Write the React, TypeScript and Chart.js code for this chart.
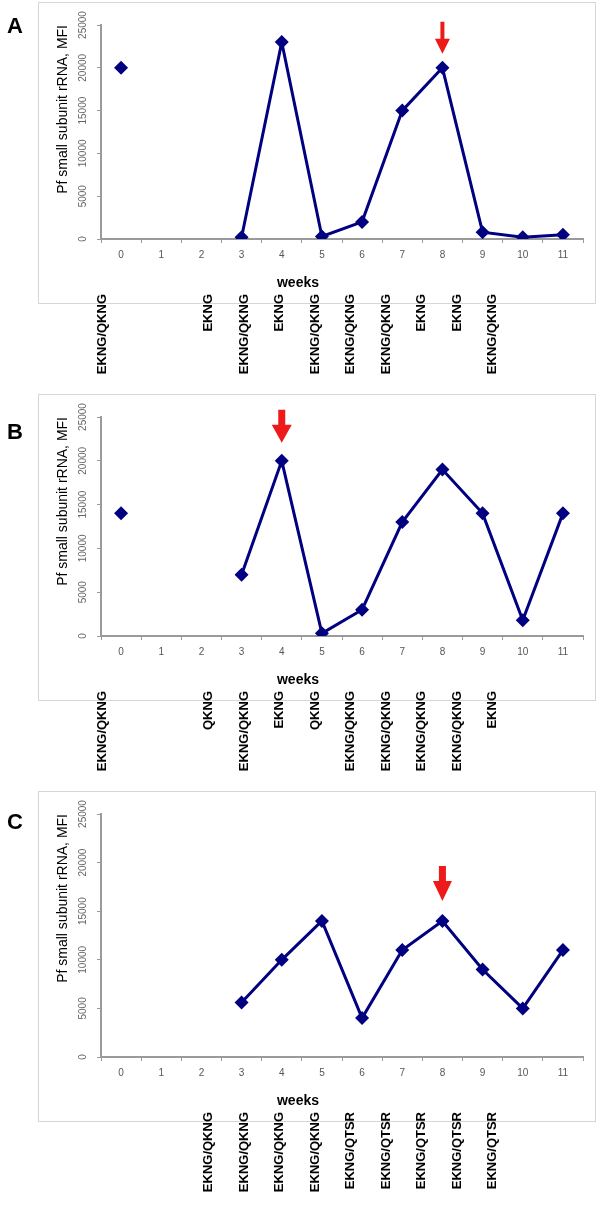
import React, { useEffect, useRef } from "react";
import { Chart, registerables } from "chart.js";

Chart.register(...registerables);

// ---------- data ----------
const weeks = ["0", "1", "2", "3", "4", "5", "6", "7", "8", "9", "10", "11"];
const yTickValues = [0, 5000, 10000, 15000, 20000, 25000];

const valuesA = [20000, null, null, 200, 23000, 300, 2000, 15000, 20000, 800, 200, 500];
const valuesB = [14000, null, null, 7000, 20000, 300, 3000, 13000, 19000, 14000, 1800, 14000];
const valuesC = [null, null, null, 5600, 10000, 14000, 4000, 11000, 14000, 9000, 5000, 11000];

const regimensA = ["EKNG/QKNG", "", "", "EKNG", "EKNG/QKNG", "EKNG", "EKNG/QKNG", "EKNG/QKNG", "EKNG/QKNG", "EKNG", "EKNG", "EKNG/QKNG"];
const regimensB = ["EKNG/QKNG", "", "", "QKNG", "EKNG/QKNG", "EKNG", "QKNG", "EKNG/QKNG", "EKNG/QKNG", "EKNG/QKNG", "EKNG/QKNG", "EKNG"];
const regimensC = ["", "", "", "EKNG/QKNG", "EKNG/QKNG", "EKNG/QKNG", "EKNG/QKNG", "EKNG/QTSR", "EKNG/QTSR", "EKNG/QTSR", "EKNG/QTSR", "EKNG/QTSR"];

const arrowWeekA = 8;
const arrowWeekB = 4;
const arrowWeekC = 8;

const panelLetters = ["A", "B", "C"];
const yTitle = "Pf small subunit rRNA, MFI";
const xTitle = "weeks";

// ---------- layout / style ----------
const FONT = "'Liberation Sans', Arial, sans-serif";
const NAVY = "#000080";
const AXIS = "#9a9a9a";

type PanelLayout = {
  top: number;
  height: number;
  padTop: number;
  padBottom: number;
  letterY: number;
  arrow: { gap: number; len: number; shaftW: number; headW: number; headLen: number };
};

const layouts: PanelLayout[] = [
  { top: 0, height: 390, padTop: 25, padBottom: 121, letterY: 27, arrow: { gap: 14, len: 32, shaftW: 4, headW: 15, headLen: 15 } },
  { top: 390, height: 400, padTop: 27, padBottom: 124, letterY: 43, arrow: { gap: 18, len: 33, shaftW: 7, headW: 20, headLen: 18 } },
  { top: 790, height: 418, padTop: 24, padBottom: 121, letterY: 33, arrow: { gap: 20, len: 35, shaftW: 7, headW: 19, headLen: 20 } },
];

function makeDecor(letter: string, regimens: string[], arrowWeek: number, lay: PanelLayout) {
  return {
    id: "decor",
    beforeDraw(chart: any) {
      const { ctx, chartArea } = chart;
      ctx.save();
      ctx.strokeStyle = "#d6d6d6";
      ctx.lineWidth = 1;
      const top = chartArea.top - 23;
      const bottom = chartArea.bottom + 64;
      ctx.strokeRect(38.5, top + 0.5, 557, bottom - top);
      ctx.restore();
    },
    afterDraw(chart: any) {
      const { ctx, chartArea } = chart;
      const y = chart.scales.y;
      ctx.save();
      // panel letter
      ctx.fillStyle = "#000";
      ctx.font = `bold 22px ${FONT}`;
      ctx.textAlign = "center";
      ctx.textBaseline = "middle";
      ctx.fillText(letter, 15, lay.letterY);

      // y tick labels (rotated)
      ctx.fillStyle = "#666";
      ctx.font = `10px ${FONT}`;
      yTickValues.forEach((v) => {
        const py = y.getPixelForValue(v);
        ctx.save();
        ctx.translate(83, py);
        ctx.rotate(-Math.PI / 2);
        ctx.textAlign = "center";
        ctx.textBaseline = "middle";
        ctx.fillText(String(v), 0, 0);
        ctx.restore();
      });

      // x title
      ctx.fillStyle = "#000";
      ctx.font = `bold 14px ${FONT}`;
      ctx.textAlign = "center";
      ctx.textBaseline = "middle";
      ctx.fillText(xTitle, 298, chartArea.bottom + 44);

      // regimen labels
      ctx.font = `bold 13px ${FONT}`;
      regimens.forEach((lab, i) => {
        if (!lab) return;
        const lx = 102 + i * 35.5;
        ctx.save();
        ctx.translate(lx, chartArea.bottom + 55);
        ctx.rotate(-Math.PI / 2);
        ctx.textAlign = "right";
        ctx.textBaseline = "middle";
        ctx.fillText(lab, 0, 0);
        ctx.restore();
      });

      // red arrow
      const pt = chart.getDatasetMeta(0).data[arrowWeek];
      if (pt) {
        const a = lay.arrow;
        const x = pt.x;
        const tip = pt.y - a.gap;
        const start = tip - a.len;
        const headTop = tip - a.headLen;
        ctx.fillStyle = "#ee1a1a";
        ctx.beginPath();
        ctx.moveTo(x - a.shaftW / 2, start);
        ctx.lineTo(x + a.shaftW / 2, start);
        ctx.lineTo(x + a.shaftW / 2, headTop);
        ctx.lineTo(x + a.headW / 2, headTop);
        ctx.lineTo(x, tip);
        ctx.lineTo(x - a.headW / 2, headTop);
        ctx.lineTo(x - a.shaftW / 2, headTop);
        ctx.closePath();
        ctx.fill();
      }
      ctx.restore();
    },
  };
}

function Panel(props: { values: (number | null)[]; regimens: string[]; arrowWeek: number; letter: string; lay: PanelLayout }) {
  const ref = useRef<HTMLCanvasElement>(null);
  const { values, regimens, arrowWeek, letter, lay } = props;
  useEffect(() => {
    if (!ref.current) return;
    const chart = new Chart(ref.current, {
      type: "line",
      data: {
        labels: weeks,
        datasets: [
          {
            data: values,
            borderColor: NAVY,
            backgroundColor: NAVY,
            borderWidth: 3,
            pointStyle: "rectRot",
            pointRadius: 7,
            pointBorderWidth: 0,
            pointBackgroundColor: NAVY,
            spanGaps: false,
            tension: 0,
          } as any,
        ],
      },
      options: {
        responsive: false,
        animation: false,
        layout: { padding: { left: 41, right: 17, top: lay.padTop, bottom: lay.padBottom } },
        plugins: { legend: { display: false }, tooltip: { enabled: false } },
        scales: {
          x: {
            type: "category",
            offset: true,
            grid: { display: true, drawOnChartArea: false, drawTicks: true, tickLength: 4, offset: true, color: AXIS, lineWidth: 1 },
            border: { display: true, color: AXIS, width: 2 },
            ticks: { color: "#555", font: { family: FONT, size: 10 }, padding: 6, maxRotation: 0, autoSkip: false },
            afterFit(s: any) {
              s.height = 30;
            },
          },
          y: {
            min: 0,
            max: 25000,
            ticks: { stepSize: 5000, display: false },
            grid: { display: true, drawOnChartArea: false, drawTicks: true, tickLength: 4, color: AXIS, lineWidth: 1 },
            border: { display: true, color: AXIS, width: 2 },
            title: { display: true, text: yTitle, align: "end", color: "#000", font: { family: FONT, size: 14 }, padding: { top: 14, bottom: 0 } },
            afterFit(s: any) {
              s.width = 60;
            },
          },
        },
      } as any,
      plugins: [makeDecor(letter, regimens, arrowWeek, lay)],
    });
    return () => chart.destroy();
  }, []);
  return (
    <canvas
      ref={ref}
      width={600}
      height={lay.height}
      style={{ position: "absolute", left: 0, top: lay.top, width: 600, height: lay.height, display: "block" }}
    />
  );
}

export default function App() {
  return (
    <div style={{ position: "absolute", left: 0, top: 0, width: 600, height: 1208, background: "#fff" }}>
      <Panel values={valuesA} regimens={regimensA} arrowWeek={arrowWeekA} letter={panelLetters[0]} lay={layouts[0]} />
      <Panel values={valuesB} regimens={regimensB} arrowWeek={arrowWeekB} letter={panelLetters[1]} lay={layouts[1]} />
      <Panel values={valuesC} regimens={regimensC} arrowWeek={arrowWeekC} letter={panelLetters[2]} lay={layouts[2]} />
    </div>
  );
}
